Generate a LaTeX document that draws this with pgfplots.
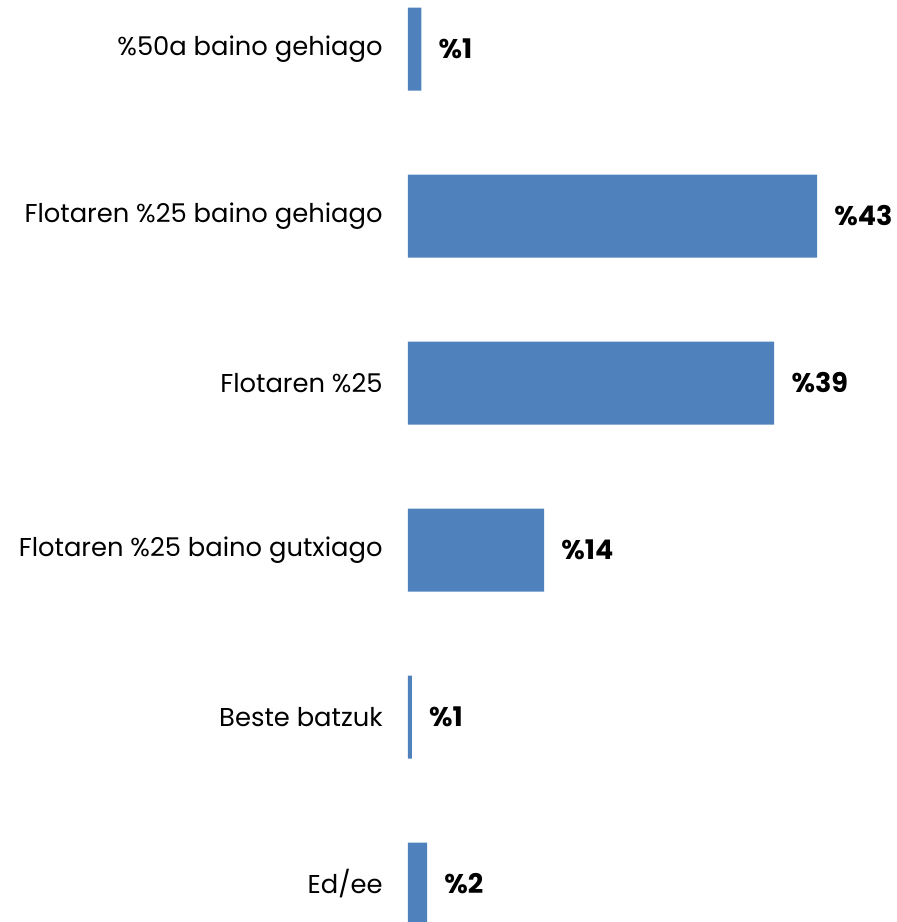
\documentclass[border=0pt]{standalone}
\usepackage{pgfplots}
\pgfplotsset{compat=1.18}
\usepackage{fontspec}
\setmainfont{Poppins}
\definecolor{barblue}{HTML}{4F81BD}
\begin{document}
\begin{tikzpicture}
\useasboundingbox (0,0) rectangle (448.5pt,461pt);
\begin{axis}[
  at={(204pt,436.5pt)}, anchor=origin,
  x=4.756pt, y=83.5pt, y dir=reverse,
  xmin=0, xmax=50, ymin=-0.5, ymax=5.5,
  xbar, bar width=41.5pt, bar shift=0pt,
  axis line style={draw=none},
  xtick=\empty,
  ytick={0,1,2,3,4,5},
  yticklabels={\%50a baino gehiago, Flotaren \%25 baino gehiago, Flotaren \%25, Flotaren \%25 baino gutxiago, Beste batzuk, Ed/ee},
  major tick length=0pt,
  yticklabel style={font=\fontsize{12.9}{15}\selectfont, text=black, inner sep=0pt, anchor=east},
  tick label style={/pgf/number format/assume math mode=true},
  y tick label style={xshift=-12.5pt},
  point meta=explicit symbolic,
  nodes near coords,
  nodes near coords style={font=\fontsize{13.5}{15}\selectfont\bfseries, text=black, anchor=west, inner sep=0pt, xshift=8.5pt},
  clip=false,
]
\addplot[fill=barblue, draw=none] coordinates {
  (1.4,0) [\%1]
  (43,1) [\%43]
  (38.5,2) [\%39]
  (14.3,3) [\%14]
  (0.4,4) [\%1]
  (2.0,5) [\%2]
};
\end{axis}
\end{tikzpicture}
\end{document}
